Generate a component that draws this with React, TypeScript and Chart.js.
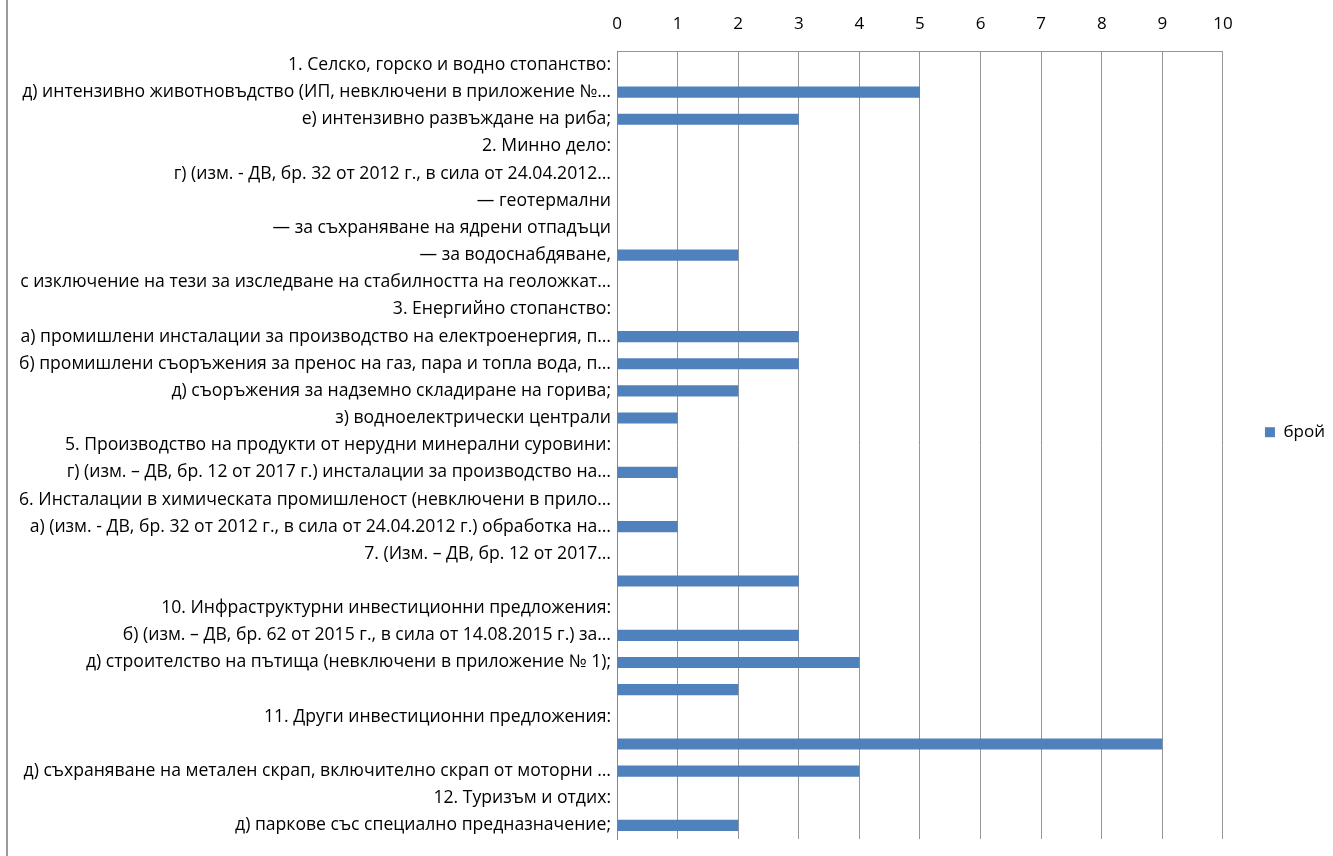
import React, { useEffect, useRef } from "react";
import { Chart, registerables } from "chart.js";

Chart.register(...registerables);

const categories: string[] = [
  "1. Селско, горско и водно стопанство:",
  "д) интензивно животновъдство (ИП, невключени в приложение №…",
  "е) интензивно развъждане на риба;",
  "2. Минно дело:",
  "г) (изм. - ДВ, бр. 32 от 2012 г., в сила от 24.04.2012…",
  "— геотермални",
  "— за съхраняване на ядрени отпадъци",
  "— за водоснабдяване,",
  "с изключение на тези за изследване на стабилността на геоложкат…",
  "3. Енергийно стопанство:",
  "а) промишлени инсталации за производство на електроенергия, п…",
  "б) промишлени съоръжения за пренос на газ, пара и топла вода, п…",
  "д) съоръжения за надземно складиране на горива;",
  "з) водноелектрически централи",
  "5. Производство на продукти от нерудни минерални суровини:",
  "г) (изм. – ДВ, бр. 12 от 2017 г.) инсталации за производство на…",
  "6. Инсталации в химическата промишленост (невключени в прило…",
  "а) (изм. - ДВ, бр. 32 от 2012 г., в сила от 24.04.2012 г.) обработка на…",
  "7. (Изм. – ДВ, бр. 12 от 2017…",
  "",
  "10. Инфраструктурни инвестиционни предложения:",
  "б) (изм. – ДВ, бр. 62 от 2015 г., в сила от 14.08.2015 г.) за…",
  "д) строителство на пътища (невключени в приложение № 1);",
  "",
  "11. Други инвестиционни предложения:",
  "",
  "д) съхраняване на метален скрап, включително скрап от моторни …",
  "12. Туризъм и отдих:",
  "д) паркове със специално предназначение;",
];

const seriesName = "брой";
const counts: number[] = [
  0, 5, 3, 0, 0, 0, 0, 2, 0, 0, 3, 3, 2, 1, 0, 1, 0, 1, 0, 3, 0, 3, 4, 2, 0, 9, 4, 0, 2,
];

const xTickValues: number[] = [0, 1, 2, 3, 4, 5, 6, 7, 8, 9, 10];

const FONT = "'Open Sans', 'Liberation Sans', sans-serif";

export default function App() {
  const ref = useRef<HTMLCanvasElement | null>(null);

  useEffect(() => {
    if (!ref.current) return;
    const chart = new Chart(ref.current, {
      type: "bar",
      data: {
        labels: categories,
        datasets: [
          {
            label: seriesName,
            data: counts,
            backgroundColor: "#4F81BD",
            borderWidth: 0,
            categoryPercentage: 1,
            barPercentage: 0.41,
          },
        ],
      },
      options: {
        indexAxis: "y",
        animation: false,
        responsive: true,
        maintainAspectRatio: false,
        layout: { padding: { top: -3, bottom: 17, left: 0, right: -2 } },
        plugins: {
          tooltip: { enabled: false },
          legend: {
            position: "right",
            title: {
              display: true,
              text: "",
              font: { size: 12 },
              padding: { top: 8, bottom: 6 },
            },
            labels: {
              boxWidth: 10,
              boxHeight: 10,
              color: "#000",
              font: { family: FONT, size: 17 },
              padding: 42,
            },
          },
        },
        scales: {
          x: {
            position: "top",
            min: 0,
            max: 10,
            afterBuildTicks: (s: any) => {
              s.ticks = xTickValues.map((v) => ({ value: v }));
            },
            ticks: {
              color: "#000",
              font: { family: FONT, size: 17 },
              padding: 17,
            },
            grid: { color: "#969696", lineWidth: 1, drawTicks: false },
            border: { display: true, color: "#969696" },
          },
          y: {
            afterFit: (s: any) => {
              s.width = 617;
            },
            ticks: {
              color: "#000",
              font: { family: FONT, size: 17.6 },
              padding: 6,
              autoSkip: false,
            },
            grid: { display: false, drawTicks: false },
            border: { display: true, color: "#868686" },
          },
        },
      },
    });
    return () => chart.destroy();
  }, []);

  return (
    <div style={{ position: "fixed", left: 0, top: 0, width: 1333, height: 856, background: "#fff" }}>
      <div style={{ position: "absolute", left: 6, top: 0, width: 2, height: 856, background: "#9a9a9a" }} />
      <canvas ref={ref} />
    </div>
  );
}
